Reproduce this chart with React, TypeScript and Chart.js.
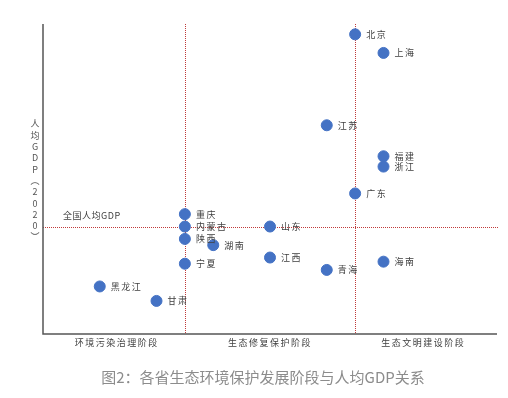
import React, { useEffect, useRef } from "react";
import { Chart, registerables } from "chart.js";

Chart.register(...registerables);

const provinces = ["北京", "上海", "江苏", "福建", "浙江", "广东", "重庆", "内蒙古", "陕西", "湖南", "宁夏", "黑龙江", "甘肃", "山东", "江西", "青海", "海南"];
const stageIndex = [11, 12, 10, 12, 12, 11, 5, 5, 5, 6, 5, 2, 4, 8, 8, 10, 12];
const gdpPerCapita = [16.5, 15.6, 12.1, 10.6, 10.1, 8.8, 7.8, 7.2, 6.6, 6.3, 5.4, 4.3, 3.6, 7.2, 5.7, 5.1, 5.5];
const nationalGdp = 7.2;
const nationalLabel = "全国人均GDP";
const stageBoundaries = [5, 11];
const stageLabels = ["环境污染治理阶段", "生态修复保护阶段", "生态文明建设阶段"];
const stageLabelPos = [2.6, 8, 13.4];
const yTitleChars = ["人", "均", "G", "D", "P", "︵", "2", "0", "2", "0", "︶"];
const caption = "图2：各省生态环境保护发展阶段与人均GDP关系";

const FONT = '"Noto Sans CJK SC", "Noto Sans", sans-serif';

const overlay = {
  id: "overlay",
  beforeDatasetsDraw(chart: any) {
    const { ctx, chartArea, scales } = chart;
    const xs = scales.x, ys = scales.y;
    ctx.save();
    // dotted reference lines
    ctx.strokeStyle = "#c03a3a";
    ctx.lineWidth = 1;
    ctx.setLineDash([1, 1]);
    stageBoundaries.forEach((v) => {
      const px = Math.round(xs.getPixelForValue(v)) + 0.5;
      ctx.beginPath();
      ctx.moveTo(px, chartArea.top);
      ctx.lineTo(px, chartArea.bottom);
      ctx.stroke();
    });
    const py = Math.round(ys.getPixelForValue(nationalGdp)) + 0.5;
    ctx.beginPath();
    ctx.moveTo(chartArea.left, py);
    ctx.lineTo(chartArea.right + 2, py);
    ctx.stroke();
    ctx.setLineDash([]);
    // axes
    ctx.strokeStyle = "#555555";
    ctx.lineWidth = 1.5;
    ctx.beginPath();
    ctx.moveTo(chartArea.left, chartArea.top);
    ctx.lineTo(chartArea.left, chartArea.bottom);
    ctx.lineTo(chartArea.right, chartArea.bottom);
    ctx.stroke();
    ctx.restore();
  },
  afterDatasetsDraw(chart: any) {
    const { ctx, chartArea, scales } = chart;
    const xs = scales.x, ys = scales.y;
    ctx.save();
    ctx.fillStyle = "#404040";
    ctx.font = `9px ${FONT}`;
    (ctx as any).letterSpacing = "1.5px";
    ctx.textBaseline = "middle";
    ctx.textAlign = "left";
    provinces.forEach((name, i) => {
      const px = xs.getPixelForValue(stageIndex[i]);
      const py = ys.getPixelForValue(gdpPerCapita[i]);
      ctx.fillText(name, px + 11, py);
    });
    // national label
    (ctx as any).letterSpacing = "0.5px";
    ctx.fillText(nationalLabel, 63, ys.getPixelForValue(nationalGdp) - 11);
    // stage labels
    (ctx as any).letterSpacing = "1.5px";
    ctx.textAlign = "center";
    stageLabels.forEach((t, i) => {
      ctx.fillText(t, xs.getPixelForValue(stageLabelPos[i]), chartArea.bottom + 9);
    });
    // y title
    (ctx as any).letterSpacing = "0px";
    ctx.fillStyle = "#555555";
    yTitleChars.forEach((c, i) => {
      ctx.fillText(c, 35, 124 + i * 11.3);
    });
    // caption
    ctx.font = `15px ${FONT}`;
    ctx.fillStyle = "#8c8c8c";
    ctx.fillText(caption, 263, 377);
    ctx.restore();
  },
};

export default function App() {
  const ref = useRef<HTMLCanvasElement>(null);
  useEffect(() => {
    if (!ref.current) return;
    const chart = new Chart(ref.current, {
      type: "scatter",
      data: {
        datasets: [
          {
            data: provinces.map((_, i) => ({ x: stageIndex[i], y: gdpPerCapita[i] })),
            backgroundColor: "#4472c4",
            borderColor: "#4472c4",
            pointRadius: 5.5,
            pointHoverRadius: 5.5,
          },
        ],
      },
      options: {
        responsive: false,
        animation: false,
        layout: { padding: { left: 43, top: 24, right: 11, bottom: 64 } },
        plugins: { legend: { display: false }, tooltip: { enabled: false } },
        scales: {
          x: { display: false, min: 0, max: 16 },
          y: { display: false, min: 2, max: 17 },
        },
      },
      plugins: [overlay],
    });
    return () => chart.destroy();
  }, []);
  return (
    <div style={{ position: "absolute", left: 0, top: 0, width: 508, height: 398, background: "#fff" }}>
      <canvas ref={ref} width={508} height={398} style={{ width: 508, height: 398, display: "block" }} />
    </div>
  );
}
